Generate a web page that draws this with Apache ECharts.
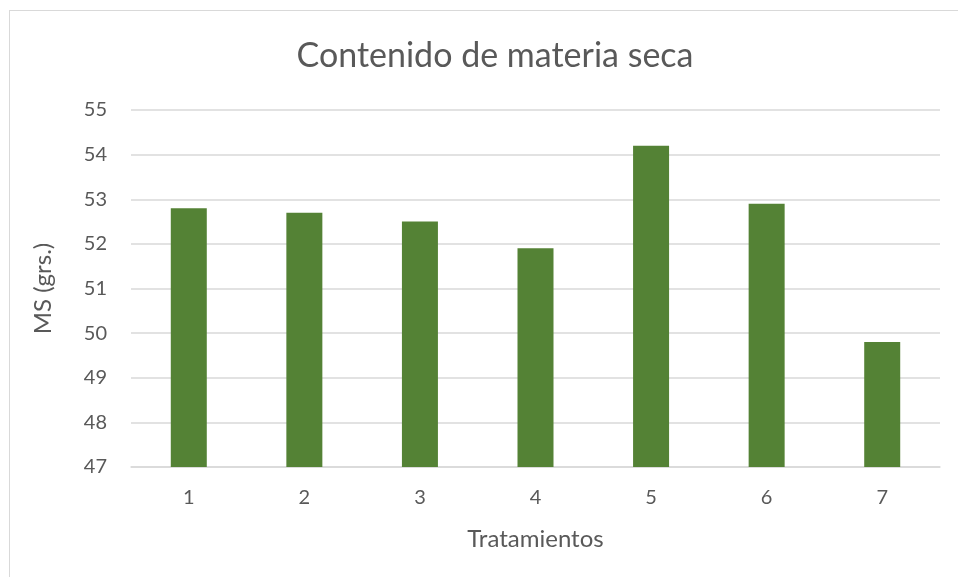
<!DOCTYPE html>
<html>
<head>
<meta charset="utf-8">
<script src="https://cdn.jsdelivr.net/npm/echarts@6/dist/echarts.min.js"></script>
<style>
  html, body { margin: 0; padding: 0; background: #fff; }
  #frame { position: absolute; left: 9px; top: 10px; width: 1000px; height: 600px; border: 1px solid #d9d9d9; box-sizing: border-box; }
  #chart { position: absolute; left: 0; top: 0; width: 958px; height: 577px; }
</style>
</head>
<body>
<div id="frame"></div>
<div id="chart"></div>
<script>
const categories = ['1', '2', '3', '4', '5', '6', '7'];
const msValues = [52.8, 52.7, 52.5, 51.9, 54.2, 52.9, 49.8];
const chartTitle = 'Contenido de materia seca';
const xName = 'Tratamientos';
const yName = 'MS (grs.)';

const font = 'Lato, "Open Sans", sans-serif';
const chart = echarts.init(document.getElementById('chart'), null, { renderer: 'canvas' });
chart.setOption({
  animation: false,
  backgroundColor: 'transparent',
  title: {
    text: chartTitle,
    left: 490,
    textAlign: 'center',
    top: 34,
    textStyle: { fontFamily: font, fontSize: 34, fontWeight: 'normal', color: '#595959' }
  },
  grid: { left: 131, right: 18, top: 110, bottom: 110 },
  xAxis: {
    type: 'category',
    data: categories,
    name: xName,
    nameLocation: 'middle',
    nameGap: 60,
    nameTextStyle: { fontFamily: font, fontSize: 24, color: '#595959' },
    axisLine: { lineStyle: { color: '#d9d9d9', width: 1.5 } },
    axisTick: { show: false },
    axisLabel: { fontFamily: font, fontSize: 20, color: '#595959', margin: 21 }
  },
  yAxis: {
    type: 'value',
    min: 47,
    max: 55,
    interval: 1,
    name: yName,
    nameLocation: 'middle',
    nameGap: 76,
    nameRotate: 90,
    nameTextStyle: { fontFamily: font, fontSize: 24, color: '#595959' },
    axisLine: { show: false },
    axisTick: { show: false },
    axisLabel: { fontFamily: font, fontSize: 20, color: '#595959', margin: 24 },
    splitLine: { lineStyle: { color: '#d9d9d9', width: 1.5 } }
  },
  series: [{
    type: 'bar',
    data: msValues,
    barWidth: 36,
    itemStyle: { color: '#548235' }
  }]
});
</script>
</body>
</html>
